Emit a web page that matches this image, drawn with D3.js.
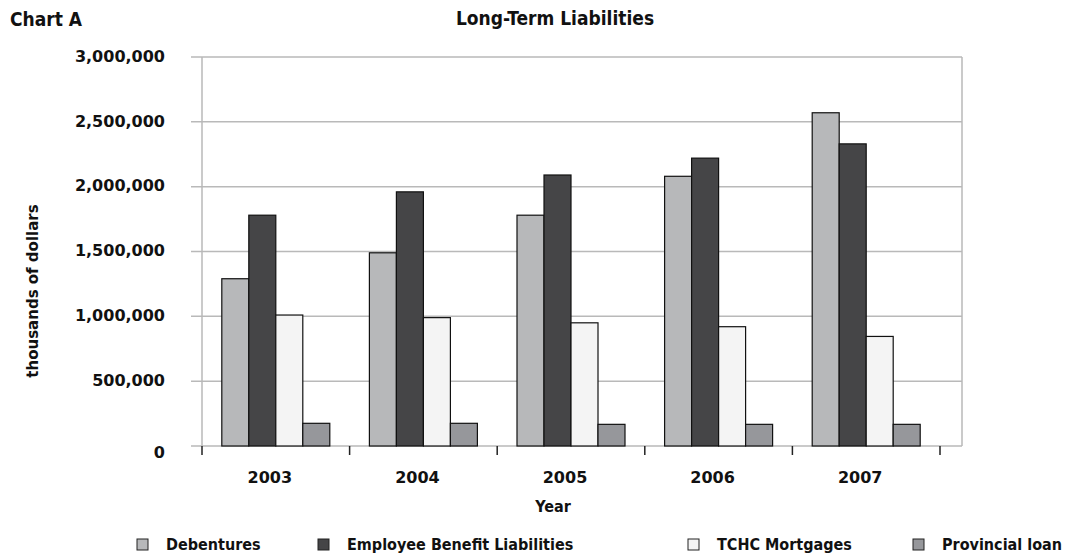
<!DOCTYPE html>
<html>
<head>
<meta charset="utf-8">
<script src="https://cdn.jsdelivr.net/npm/d3@7"></script>
<style>
  body { margin: 0; background: #fff; }
  svg { display: block; }
  .num { font-family: "DejaVu Sans", sans-serif; font-weight: bold; fill: #111; }
  .cond { font-family: "DejaVu Sans Condensed", "DejaVu Sans", sans-serif; font-weight: bold; fill: #111; }
</style>
</head>
<body>
<div id="vis"></div>
<script>
// chart values
const years = ["2003", "2004", "2005", "2006", "2007"];
const seriesNames = ["Debentures", "Employee Benefit Liabilities", "TCHC Mortgages", "Provincial loan"];
const debentures = [1290000, 1490000, 1780000, 2080000, 2570000];
const employeeBenefits = [1780000, 1960000, 2090000, 2220000, 2330000];
const tchcMortgages = [1010000, 990000, 950000, 920000, 845000];
const provincialLoan = [175000, 175000, 167000, 167000, 167000];
const yTicks = [0, 500000, 1000000, 1500000, 2000000, 2500000, 3000000];

const seriesValues = [debentures, employeeBenefits, tchcMortgages, provincialLoan];
const colors = ["#b7b8ba", "#454547", "#f4f4f4", "#96979b"];

const width = 1069, height = 560;
const margin = { top: 57, right: 107, bottom: 114, left: 202 };
const plotW = width - margin.left - margin.right;
const plotH = height - margin.top - margin.bottom;

const svg = d3.select("#vis").append("svg")
  .attr("width", width)
  .attr("height", height);

// scales
const x = d3.scaleBand().domain(years).range([0, 738]).padding(0);
const inner = d3.scaleBand().domain(d3.range(seriesNames.length))
  .range([(x.bandwidth() - 108) / 2, (x.bandwidth() + 108) / 2]);
const y = d3.scaleLinear().domain([0, 3000000]).range([plotH, 0]);

const g = svg.append("g").attr("transform", `translate(${margin.left},${margin.top})`);

// grid lines
g.append("g").selectAll("line")
  .data(yTicks)
  .enter().append("line")
  .attr("x1", -11).attr("x2", plotW)
  .attr("y1", d => y(d)).attr("y2", d => y(d))
  .attr("stroke", "#b9b9b9")
  .attr("stroke-width", 1.5);

// frame
g.append("line").attr("x1", 0).attr("x2", 0).attr("y1", 0).attr("y2", plotH)
  .attr("stroke", "#b9b9b9").attr("stroke-width", 1.5);
g.append("line").attr("x1", plotW).attr("x2", plotW).attr("y1", 0).attr("y2", plotH)
  .attr("stroke", "#b9b9b9").attr("stroke-width", 1.5);

// y tick labels
g.append("g").selectAll("text")
  .data(yTicks)
  .enter().append("text")
  .attr("class", "num")
  .attr("x", -37)
  .attr("y", d => y(d))
  .attr("dy", d => d === 0 ? "0.75em" : "0.3em")
  .attr("text-anchor", "end")
  .style("font-size", "16px")
  .text(d => d === 0 ? "0" : d3.format(",")(d));

// bars
const groups = g.append("g").selectAll("g")
  .data(years)
  .enter().append("g")
  .attr("transform", d => `translate(${x(d)},0)`);

groups.selectAll("rect")
  .data((d, i) => seriesValues.map((vals, s) => ({ s: s, v: vals[i] })))
  .enter().append("rect")
  .attr("x", d => inner(d.s))
  .attr("y", d => y(d.v))
  .attr("width", inner.bandwidth())
  .attr("height", d => plotH - y(d.v))
  .attr("fill", d => colors[d.s])
  .attr("stroke", "#111")
  .attr("stroke-width", 1.2);

// x axis ticks and labels
const xTickPos = years.map(d => x(d)).concat([x.range()[1]]);
g.append("g").selectAll("line")
  .data(xTickPos)
  .enter().append("line")
  .attr("x1", d => d).attr("x2", d => d)
  .attr("y1", plotH).attr("y2", plotH + 9)
  .attr("stroke", "#222").attr("stroke-width", 1.5);

g.append("g").selectAll("text")
  .data(years)
  .enter().append("text")
  .attr("class", "num")
  .attr("x", d => x(d) + x.bandwidth() / 2 - 6)
  .attr("y", plotH + 37)
  .attr("text-anchor", "middle")
  .style("font-size", "16px")
  .text(d => d);

// titles
svg.append("text").attr("class", "cond")
  .attr("x", 10).attr("y", 26)
  .style("font-size", "19px")
  .text("Chart A");

svg.append("text").attr("class", "cond")
  .attr("x", 555).attr("y", 25)
  .attr("text-anchor", "middle")
  .style("font-size", "19px")
  .text("Long-Term Liabilities");

svg.append("text").attr("class", "cond")
  .attr("x", 553).attr("y", 512)
  .attr("text-anchor", "middle")
  .style("font-size", "16px")
  .text("Year");

svg.append("text").attr("class", "num")
  .attr("transform", "translate(38,291) rotate(-90)")
  .attr("text-anchor", "middle")
  .style("font-size", "15px")
  .text("thousands of dollars");

// legend
const legendX = [137, 318, 688, 913];
const legend = svg.append("g").selectAll("g")
  .data(seriesNames)
  .enter().append("g")
  .attr("transform", (d, i) => `translate(${legendX[i]},539)`);

legend.append("rect")
  .attr("width", 11).attr("height", 11)
  .attr("fill", (d, i) => colors[i])
  .attr("stroke", "#222").attr("stroke-width", 1);

legend.append("text").attr("class", "cond")
  .attr("x", 29).attr("y", 11)
  .style("font-size", "16px")
  .text(d => d);
</script>
</body>
</html>
